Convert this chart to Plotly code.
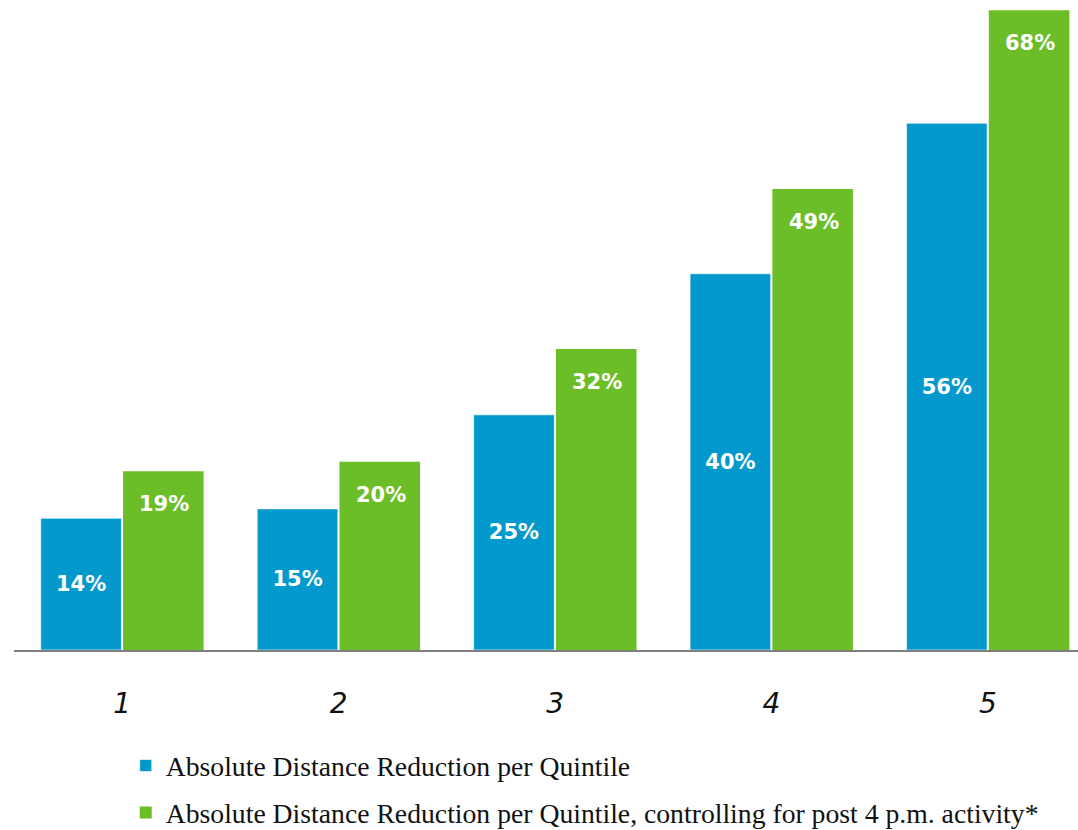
import plotly.graph_objects as go

categories = ["1", "2", "3", "4", "5"]
absolute = [14, 15, 25, 40, 56]
controlled = [19, 20, 32, 49, 68]
name_abs = "Absolute Distance Reduction per Quintile"
name_ctrl = "Absolute Distance Reduction per Quintile, controlling for post 4 p.m. activity*"

BLUE = "#0399CC"
GREEN = "#6CBE29"
label_font = dict(family="DejaVu Sans", size=21, color="white")

fig = go.Figure()
fig.add_trace(go.Bar(
    x=categories, y=absolute, name=name_abs, legendgroup="a",
    marker=dict(color=BLUE, line=dict(color="rgba(255,255,255,0.6)", width=1)),
    text=[f"<b>{v}%</b>" for v in absolute], textposition="inside",
    insidetextanchor="middle", textfont=label_font, textangle=0,
))
fig.add_trace(go.Bar(
    x=categories, y=controlled, name=name_ctrl, legendgroup="b",
    marker=dict(color=GREEN, line=dict(width=0)),
))
for i, v in enumerate(controlled):
    fig.add_annotation(x=i, y=v, text=f"<b>{v}%</b>", showarrow=False,
                       xref="x", yref="y", xshift=42, yshift=-33,
                       font=label_font)

fig.update_layout(
    width=1078, height=830,
    margin=dict(l=14, r=0, t=0, b=180, autoexpand=False),
    plot_bgcolor="white", paper_bgcolor="white",
    barmode="group", bargap=0.24, bargroupgap=0.02,
    showlegend=True,
    legend=dict(x=0.105, xanchor="left", y=-0.140, yanchor="top",
                font=dict(family="Liberation Serif", size=27.7, color="#111"),
                traceorder="grouped", tracegroupgap=8,
                bgcolor="rgba(0,0,0,0)"),
    xaxis=dict(type="category", range=[-0.5, 4.416], showline=True,
               linecolor="#7f7f7f", linewidth=2,
               ticks="", showgrid=False, zeroline=False,
               tickfont=dict(family="DejaVu Sans", size=28, color="#111", style="italic"),
               ticklabelstandoff=27),
    yaxis=dict(range=[0, 69.1], visible=False, showgrid=False, zeroline=False),
)
fig.write_html("out.html", config={"displayModeBar": False},
               post_script="document.body.style.margin='0';")
